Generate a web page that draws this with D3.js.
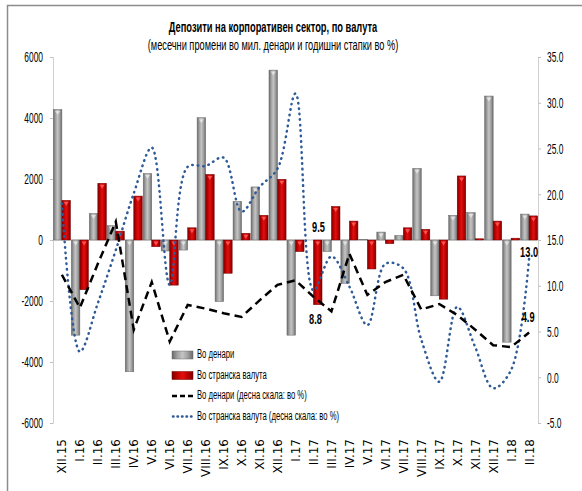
<!DOCTYPE html>
<html>
<head>
<meta charset="utf-8">
<script src="https://cdn.jsdelivr.net/npm/d3@7"></script>
<style>
  body { margin: 0; background: #fff; }
  svg { display: block; }
</style>
</head>
<body>
<div id="chart"></div>
<script>

// months
var categories = ["XII.15", "I.16", "II.16", "III.16", "IV.16", "V.16", "VI.16", "VII.16", "VIII.16",
    "IX.16", "X.16", "XI.16", "XII.16", "I.17", "II.17", "III.17", "IV.17", "V.17", "VI.17",
    "VII.17", "VIII.17", "IX.17", "X.17", "XI.17", "XII.17", "I.18", "II.18"];

// monthly changes, mil. denars (left scale)
var denari = [4280, -3120, 870, 470, -4320, 2180, -360, -330, 4010, -2020, 1270, 1740, 5570,
    -3120, 0, -380, -1420, 20, 260, 150, 2350, -1830, 810, 900, 4720, -3350, 850];
var stranska = [1300, -1630, 1860, 290, 1440, -220, -1480, 400, 2150, -1090, 220, 810, 1990,
    -380, -2120, 1100, 620, -950, -120, 400, 350, -1940, 2100, 40, 620, 60, 790];

// annual rates, % (right scale)
var denariPct = [11.2, 7.6, 12.4, 17.0, 5.2, 10.4, 3.9, 7.9, 7.5, 7.0, 6.6, 8.4, 10.1,
    10.6, 8.8, 7.2, 13.5, 9.0, 10.4, 11.2, 7.4, 8.0, 6.8, 5.2, 3.5, 3.3, 4.9];
var stranskaPct = [19.0, 2.8, 8.1, 13.9, 20.1, 25.1, 10.1, 23.0, 23.1, 24.0, 18.1, 20.8, 22.8,
    31.0, 9.5, 13.2, 9.9, 5.7, 12.4, 11.9, 4.1, -0.5, 7.7, 3.3, -1.2, 0.8, 13.0];

var leftTicks = [-6000, -4000, -2000, 0, 2000, 4000, 6000];
var rightTicks = [-5, 0, 5, 10, 15, 20, 25, 30, 35];

var seriesNames = ["Во денари", "Во странска валута",
    "Во денари (десна скала: во %)", "Во странска валута (десна скала: во %)"];

// labelled points: [series, index, dx, dy]
var pointLabels = [["den", 14, 2, 24], ["str", 14, 5, -62], ["str", 26, 0, -5], ["den", 26, -1, -14]];

var width = 582, height = 491;
var margin = { top: 57, right: 44, bottom: 68, left: 53 };

var svg = d3.select("#chart").append("svg")
    .attr("width", width)
    .attr("height", height);

var narrow = "'Liberation Sans', Arial, sans-serif";

// squeeze text horizontally like the original
function squeeze(sel, k) {
    sel.each(function () {
        var w = this.getComputedTextLength();
        d3.select(this).attr("textLength", w * k).attr("lengthAdjust", "spacingAndGlyphs");
    });
}

// gradients for bevelled bars
var defs = svg.append("defs");
function grad(id, edge, mid, light) {
    var g = defs.append("linearGradient").attr("id", id)
        .attr("x1", 0).attr("x2", 1).attr("y1", 0).attr("y2", 0);
    g.append("stop").attr("offset", "0%").attr("stop-color", edge);
    g.append("stop").attr("offset", "25%").attr("stop-color", mid);
    g.append("stop").attr("offset", "50%").attr("stop-color", light);
    g.append("stop").attr("offset", "75%").attr("stop-color", mid);
    g.append("stop").attr("offset", "100%").attr("stop-color", edge);
}
grad("gGray", "#6a6a6a", "#a0a0a0", "#c4c4c4");
grad("gRed", "#7a0000", "#c00000", "#e01010");

// outer frame
svg.append("rect")
    .attr("x", 7.5).attr("y", 5.5)
    .attr("width", 700).attr("height", 700)
    .attr("fill", "none")
    .attr("stroke", "#8c8c8c")
    .attr("stroke-width", 1.5);

var x = d3.scaleBand()
    .domain(categories)
    .range([margin.left, width - margin.right])
    .paddingInner(0.05)
    .paddingOuter(0.02);

var sub = d3.scaleBand()
    .domain(["den", "str"])
    .range([0, x.bandwidth()]);

var yL = d3.scaleLinear().domain([-6000, 6000]).range([height - margin.bottom, margin.top]);
var yR = d3.scaleLinear().domain([-5, 35]).range([height - margin.bottom, margin.top]);

// axes
var leftAxis = svg.append("g")
    .attr("transform", "translate(" + margin.left + ",0)")
    .call(d3.axisLeft(yL).tickValues(leftTicks).tickSize(3).tickPadding(7)
        .tickFormat(function (d) { return String(d); }));

var rightAxis = svg.append("g")
    .attr("transform", "translate(" + (width - margin.right) + ",0)")
    .call(d3.axisRight(yR).tickValues(rightTicks).tickSize(3).tickPadding(6)
        .tickFormat(function (d) { return d.toFixed(1); }));

[leftAxis, rightAxis].forEach(function (a) {
    a.select(".domain").attr("stroke", "#d0d0d0");
    a.selectAll(".tick line").attr("stroke", "#bfbfbf");
    a.selectAll(".tick text")
        .attr("fill", "#000")
        .style("font-family", narrow)
        .style("font-size", "15px")
        .call(squeeze, 0.56);
});

// zero line
svg.append("line")
    .attr("x1", margin.left).attr("x2", width - margin.right)
    .attr("y1", yL(0)).attr("y2", yL(0))
    .attr("stroke", "#bdbdbd");

// bars
var barData = [];
categories.forEach(function (c, i) {
    barData.push({ cat: c, key: "den", value: denari[i] });
    barData.push({ cat: c, key: "str", value: stranska[i] });
});

var bars = svg.append("g").selectAll("g")
    .data(barData)
    .enter().append("g");

bars.append("rect")
    .attr("x", function (d) { return x(d.cat) + sub(d.key); })
    .attr("y", function (d) { return Math.min(yL(d.value), yL(0)); })
    .attr("width", sub.bandwidth())
    .attr("height", function (d) { return Math.abs(yL(d.value) - yL(0)); })
    .attr("fill", function (d) { return d.key === "den" ? "url(#gGray)" : "url(#gRed)"; })
    .attr("stroke", function (d) { return d.key === "den" ? "#6a6a6a" : "#700000"; })
    .attr("stroke-width", 0.5);

// little bevel triangles on top of the bars
bars.filter(function (d) { return Math.abs(yL(d.value) - yL(0)) > 6; })
    .append("path")
    .attr("d", function (d) {
        var cx = x(d.cat) + sub(d.key) + sub.bandwidth() / 2;
        var top = Math.min(yL(d.value), yL(0)) + 1.5;
        return "M" + (cx - 2.5) + "," + top + "L" + (cx + 2.5) + "," + top + "L" + cx + "," + (top + 4) + "Z";
    })
    .attr("fill", function (d) { return d.key === "den" ? "#e8e8e8" : "#ff6060"; })
    .attr("opacity", 0.85);

// lines
var cx = function (i) { return x(categories[i]) + x.bandwidth() / 2; };

var lineDen = d3.line()
    .x(function (d, i) { return cx(i); })
    .y(function (d) { return yR(d); });

var lineStr = d3.line()
    .x(function (d, i) { return cx(i); })
    .y(function (d) { return yR(d); })
    .curve(d3.curveCatmullRom.alpha(0.5));

svg.append("path")
    .datum(stranskaPct)
    .attr("d", lineStr)
    .attr("fill", "none")
    .attr("stroke", "#2e5b97")
    .attr("stroke-width", 2.5)
    .attr("stroke-linecap", "round")
    .attr("stroke-dasharray", "0.5,5");

svg.append("path")
    .datum(denariPct)
    .attr("d", lineDen)
    .attr("fill", "none")
    .attr("stroke", "#000")
    .attr("stroke-width", 2.5)
    .attr("stroke-dasharray", "8,5");

// point labels
svg.append("g").selectAll("text")
    .data(pointLabels)
    .enter().append("text")
    .attr("x", function (d) { return cx(d[1]) + d[2]; })
    .attr("y", function (d) { return yR((d[0] === "den" ? denariPct : stranskaPct)[d[1]]) + d[3]; })
    .attr("text-anchor", "middle")
    .attr("dominant-baseline", "middle")
    .style("font-family", narrow)
    .style("font-size", "14px")
    .style("font-weight", "bold")
    .text(function (d) { return (d[0] === "den" ? denariPct : stranskaPct)[d[1]].toFixed(1); })
    .call(squeeze, 0.66);

// category labels
svg.append("g").selectAll("text")
    .data(categories)
    .enter().append("text")
    .attr("transform", function (d) { return "translate(" + (x(d) + x.bandwidth() / 2 + 1) + ",439) rotate(-90)"; })
    .attr("text-anchor", "end")
    .attr("dominant-baseline", "middle")
    .style("font-family", "'DejaVu Sans', Verdana, sans-serif")
    .style("font-size", "12px")
    .text(function (d) { return d; });

// title
svg.append("text")
    .attr("x", 273).attr("y", 32)
    .attr("text-anchor", "middle")
    .style("font-family", narrow)
    .style("font-size", "15px")
    .style("font-weight", "bold")
    .text("Депозити на корпоративен сектор, по валута")
    .call(squeeze, 0.62);

svg.append("text")
    .attr("x", 273).attr("y", 50)
    .attr("text-anchor", "middle")
    .style("font-family", narrow)
    .style("font-size", "14px")
    .text("(месечни промени во мил. денари и годишни стапки во %)")
    .call(squeeze, 0.66);

// legend
var legend = svg.append("g").attr("transform", "translate(172,355)");
var rowH = 20.5;

seriesNames.forEach(function (name, i) {
    var row = legend.append("g").attr("transform", "translate(0," + (i * rowH) + ")");
    if (i < 2) {
        row.append("rect")
            .attr("x", 0).attr("y", -4)
            .attr("width", 21).attr("height", 8)
            .attr("fill", i === 0 ? "url(#gGray)" : "url(#gRed)")
            .attr("stroke", i === 0 ? "#6a6a6a" : "#700000")
            .attr("stroke-width", 0.5);
    } else if (i === 2) {
        row.append("line")
            .attr("x1", 0).attr("x2", 21).attr("y1", 0).attr("y2", 0)
            .attr("stroke", "#000").attr("stroke-width", 2.5)
            .attr("stroke-dasharray", "5,3");
    } else {
        row.append("line")
            .attr("x1", 1).attr("x2", 21).attr("y1", 0).attr("y2", 0)
            .attr("stroke", "#2e5b97").attr("stroke-width", 2.5)
            .attr("stroke-linecap", "round")
            .attr("stroke-dasharray", "0.5,4");
    }
    row.append("text")
        .attr("x", 25).attr("y", 0)
        .attr("dominant-baseline", "middle")
        .style("font-family", narrow)
        .style("font-size", "12px")
        .text(name)
        .call(squeeze, 0.64);
});

</script>
</body>
</html>
